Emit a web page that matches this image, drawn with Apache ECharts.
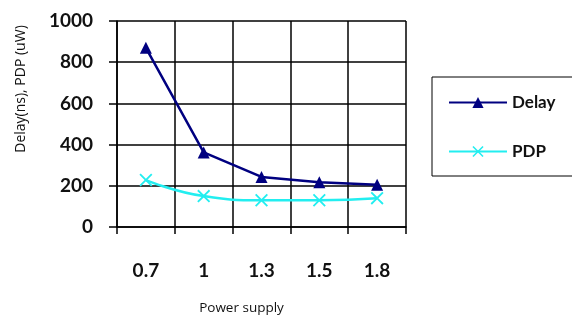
<!DOCTYPE html>
<html>
<head>
<meta charset="utf-8">
<script src="https://cdn.jsdelivr.net/npm/echarts@6/dist/echarts.min.js"></script>
<style>
  html, body { margin: 0; padding: 0; background: #fff; }
  #chart { width: 572px; height: 320px; }
</style>
</head>
<body>
<div id="chart"></div>
<script>
// data
var supply = ['0.7', '1', '1.3', '1.5', '1.8']
var delay = [870, 362, 243, 217, 205]
var pdp = [228, 150, 130, 130, 140]
var yTicks = [0, 200, 400, 600, 800, 1000]

var font = 'Lato, "Open Sans", sans-serif'
var smallFont = '"Open Sans", sans-serif'
var crossPath = 'path://M0,1L1,0L5,4L9,0L10,1L6,5L10,9L9,10L5,6L1,10L0,9L4,5Z'

var myChart = echarts.init(document.getElementById('chart'))
myChart.setOption({
  animation: false,
  grid: { left: 117, right: 166, top: 21, bottom: 92 },
  legend: {
    orient: 'vertical',
    left: 432,
    top: 77,
    padding: [17, 110, 16, 16],
    itemGap: 32,
    itemWidth: 58,
    itemHeight: 14,
    borderColor: '#000',
    borderWidth: 1,
    textStyle: { fontFamily: font, fontSize: 17, fontWeight: 'bold', color: '#111' },
    data: ['Delay', 'PDP']
  },
  graphic: [{
    type: 'text',
    x: 21,
    y: 89,
    rotation: Math.PI / 2,
    style: {
      text: 'Delay(ns), PDP (uW)',
      fontFamily: smallFont,
      fontSize: 14,
      fill: '#111',
      align: 'center',
      verticalAlign: 'middle'
    }
  }],
  xAxis: {
    type: 'category',
    data: supply,
    boundaryGap: true,
    name: 'Power supply',
    nameLocation: 'middle',
    nameGap: 74,
    nameTextStyle: { fontFamily: smallFont, fontSize: 13.5, color: '#111', padding: [0, 40, 0, 0] },
    axisLine: { lineStyle: { color: '#000', width: 1.5 } },
    axisTick: { show: true, length: 7, lineStyle: { color: '#000', width: 1.5 } },
    axisLabel: { margin: 34, fontFamily: font, fontSize: 19, fontWeight: 'bold', color: '#111' },
    splitLine: { show: true, lineStyle: { color: '#000', width: 1.5 } }
  },
  yAxis: {
    type: 'value',
    min: yTicks[0],
    max: yTicks[yTicks.length - 1],
    interval: 200,
    axisLine: { show: true, lineStyle: { color: '#000', width: 1.5 } },
    axisTick: { show: true, length: 8, lineStyle: { color: '#000', width: 1.5 } },
    axisLabel: {
      margin: 24, fontFamily: font, fontSize: 19, fontWeight: 'bold', color: '#111',
      formatter: function (v) { return String(v) }
    },
    splitLine: { show: true, lineStyle: { color: '#000', width: 1.5 } }
  },
  series: [
    {
      name: 'Delay',
      type: 'line',
      data: delay,
      symbol: 'triangle',
      symbolSize: 12,
      lineStyle: { color: '#000080', width: 2.5 },
      itemStyle: { color: '#000080' }
    },
    {
      name: 'PDP',
      type: 'line',
      data: pdp,
      smooth: true,
      symbol: crossPath,
      symbolSize: 13,
      lineStyle: { color: '#22eef0', width: 2.5 },
      itemStyle: { color: '#22eef0' }
    }
  ]
})
</script>
</body>
</html>
